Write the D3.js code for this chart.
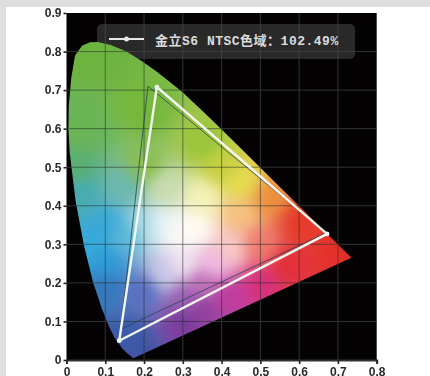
<!DOCTYPE html>
<html>
<head>
<meta charset="utf-8">
<title>NTSC色域</title>
<script src="https://cdn.jsdelivr.net/npm/d3@7"></script>
<style>
  html, body { margin: 0; background: #fff; }
  svg { display: block; }
</style>
</head>
<body>
<script>
// spectral locus
var locusX = [.1741,.1714,.1644,.1566,.1440,.1241,.1096,.0913,.0687,.0454,.0235,.0082,.0050,.0060,.0120,.0220,.0400,.0600,.0800,.1142,.1547,.1929,.2296,.2658,.3016,.3731,.4441,.5125,.5752,.6270,.6915,.7190,.7347];
var locusY = [.0050,.0051,.0109,.0177,.0297,.0578,.0868,.1327,.2007,.2950,.4127,.5384,.6000,.6600,.7300,.7900,.8150,.8240,.8250,.8170,.8000,.7760,.7500,.7220,.6923,.6245,.5547,.4866,.4242,.3725,.3083,.2809,.2653];

// white: measured gamut, dark: NTSC reference
var gamutX = [.233,.672,.136];
var gamutY = [.708,.327,.050];
var ntscX = [.21,.67,.14];
var ntscY = [.71,.33,.08];

var xTicks = [0,.1,.2,.3,.4,.5,.6,.7,.8];
var yTicks = [0,.1,.2,.3,.4,.5,.6,.7,.8,.9];
var legendText = "金立S6 NTSC色域：102.49%";

// colours read at points of the diagram
var colorX = [.08,.2,.04,.35,.012,.03,.06,.1,.1,.15,.18,.3,.35,.42,.5,.57,.7,.6,.52,.45,.4,.33,.29,.25,.2,.15,.1,.15,.2,.25,.35,.45,.5,.42,.38,.3,.25,.2,.3,.35];
var colorY = [.79,.65,.6,.56,.5,.43,.3,.25,.19,.06,.02,.1,.13,.17,.2,.25,.28,.36,.42,.46,.5,.34,.33,.35,.35,.33,.35,.45,.5,.45,.42,.38,.3,.29,.25,.25,.22,.18,.16,.2];
var colorHex = ["#6db33f","#75b83c","#6ab556","#9cc63c","#5aae70","#48acb0","#36a9da","#2f9ad6","#3678bc","#3a5ca8","#4155a5","#7c3c9e","#94409f","#c03c9f","#d8307c","#e33038","#e5302a","#e53c2c","#ec9040","#e6dc50","#c8d040","#fffbf2","#fff8f8","#e8f4f5","#b0dce8","#5ab8d8","#3aa8d8","#6db8b0","#88be50","#c8dcb0","#f4f2b8","#f6c080","#f07a70","#f8c8c8","#f0b8e0","#f0e0f0","#c8c8e8","#5a70c0","#9a60b4","#c070b8"];

var width = 430, height = 376;
var left = 66.5, right = 376.7, top_ = 13, bottom = 360;

var x = d3.scaleLinear().domain([0,.8]).range([left,right]);
var y = d3.scaleLinear().domain([0,.9]).range([bottom,top_]);

var svg = d3.select("body").append("svg")
    .attr("width",width).attr("height",height)
    .style("filter","blur(0.45px)");

// grey page edges
svg.append("rect").attr("width",width).attr("height",7).attr("fill","#dedede");
svg.append("rect").attr("width",6).attr("height",height).attr("fill","#dedede");

svg.append("rect")
    .attr("x",x(0)).attr("y",y(.9))
    .attr("width",x(.8)-x(0)).attr("height",y(0)-y(.9))
    .attr("fill","#040203");

function gridLines(g,stroke){
    g.selectAll(".v").data(xTicks.slice(1,-1)).enter().append("line")
        .attr("x1",x).attr("x2",x)
        .attr("y1",y(.9)).attr("y2",y(0))
        .attr("stroke",stroke);
    g.selectAll(".h").data(yTicks.slice(1,-1)).enter().append("line")
        .attr("x1",x(0)).attr("x2",x(.8))
        .attr("y1",y).attr("y2",y)
        .attr("stroke",stroke);
}

gridLines(svg.append("g"),"#333");

// legend box sits under the diagram
svg.append("rect")
    .attr("x",97).attr("y",24).attr("width",258).attr("height",35).attr("rx",5)
    .attr("fill","#4a4a4a").attr("fill-opacity",.55);

var locus = locusX.map(function(d,i){ return [d,locusY[i]]; });
var locusLine = d3.line()
    .x(function(d){ return x(d[0]); })
    .y(function(d){ return y(d[1]); })
    .curve(d3.curveLinearClosed);

svg.append("clipPath").attr("id","locus")
    .append("path").attr("d",locusLine(locus));

// diagram colours, blended from the colour points
var cw = Math.ceil(x(.8)-x(0)), ch = Math.ceil(y(0)-y(.9));
var raw = document.createElement("canvas");
raw.width = cw; raw.height = ch;
var rawCtx = raw.getContext("2d");
var img = rawCtx.createImageData(cw,ch);
var rgb = colorHex.map(function(c){ return d3.rgb(c); });
for (var j=0;j<ch;j++){
    for (var i=0;i<cw;i++){
        var cx = x.invert(x(0)+i), cy = y.invert(y(.9)+j);
        var r=0,g=0,b=0,w=0;
        for (var k=0;k<rgb.length;k++){
            var dx = cx-colorX[k], dy = cy-colorY[k];
            var t = 1/Math.pow(dx*dx+dy*dy+1e-5,2);
            r+=rgb[k].r*t; g+=rgb[k].g*t; b+=rgb[k].b*t; w+=t;
        }
        var p = (j*cw+i)*4;
        img.data[p]=r/w; img.data[p+1]=g/w; img.data[p+2]=b/w; img.data[p+3]=255;
    }
}
rawCtx.putImageData(img,0,0);

// soften the blend so the colour points do not show
var canvas = document.createElement("canvas");
canvas.width = cw; canvas.height = ch;
var ctx = canvas.getContext("2d");
ctx.drawImage(raw,0,0);
ctx.filter = "blur(6px)";
ctx.drawImage(raw,0,0);

var diagram = svg.append("g").attr("clip-path","url(#locus)");
diagram.append("image")
    .attr("x",x(0)).attr("y",y(.9))
    .attr("width",cw).attr("height",ch)
    .attr("href",canvas.toDataURL());
gridLines(diagram.append("g"),"rgba(30,45,40,.55)");

// triangles
var tri = d3.line().curve(d3.curveLinearClosed);
svg.append("path")
    .attr("d",tri(ntscX.map(function(d,i){ return [x(d),y(ntscY[i])]; })))
    .attr("fill","none").attr("stroke","#1f3f55").attr("stroke-opacity",.75).attr("stroke-width",1);
svg.append("path")
    .attr("d",tri(gamutX.map(function(d,i){ return [x(d),y(gamutY[i])]; })))
    .attr("fill","none").attr("stroke","#f4f6f0").attr("stroke-width",2.4);
svg.selectAll(".dot").data(gamutX).enter().append("circle")
    .attr("cx",x)
    .attr("cy",function(d,i){ return y(gamutY[i]); })
    .attr("r",2.4).attr("fill","#eef6f4");

// legend
svg.append("line").attr("x1",109).attr("x2",144).attr("y1",39).attr("y2",39)
    .attr("stroke","#e8e8e8").attr("stroke-width",2.2);
svg.append("circle").attr("cx",126.5).attr("cy",39).attr("r",2.5).attr("fill","#e8e8e8");
svg.append("text").attr("x",155).attr("y",44.5)
    .attr("fill","#dcdcdc")
    .style("font-family","'Liberation Mono','Noto Sans CJK SC',monospace")
    .style("font-size","13px").style("font-weight","bold").style("letter-spacing","0.5px")
    .text(legendText);

// axes
var fmt = d3.format("~g");
var xAxis = d3.axisBottom(x).tickValues(xTicks).tickFormat(fmt).tickSize(4).tickSizeOuter(4).tickPadding(3);
var yAxis = d3.axisLeft(y).tickValues(yTicks).tickFormat(fmt).tickSize(3).tickSizeOuter(0).tickPadding(2);

var gx = svg.append("g").attr("transform","translate(0,"+y(0)+")").call(xAxis);
var gy = svg.append("g").attr("transform","translate("+x(0)+",0)").call(yAxis);
gx.select(".domain").attr("stroke-width",2).attr("stroke","#333");
gy.select(".domain").attr("stroke","none");
[gx,gy].forEach(function(a){
    a.selectAll(".tick line").attr("stroke","#222").attr("stroke-width",1.6);
    a.selectAll("text")
        .attr("fill","#2a2a2a")
        .style("font-family","'Liberation Sans',Arial,sans-serif")
        .style("font-weight","bold").style("font-size","12px");
});
</script>
</body>
</html>
